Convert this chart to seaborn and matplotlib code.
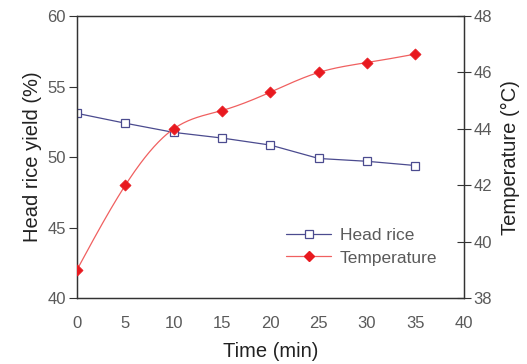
import numpy as np
import pandas as pd
import matplotlib
matplotlib.use("Agg")
import matplotlib.pyplot as plt
import seaborn as sns
from matplotlib.lines import Line2D

time_min = [0, 5, 10, 15, 20, 25, 30, 35]
head_rice = [53.1, 52.4, 51.75, 51.35, 50.85, 49.9, 49.7, 49.4]
temperature = [39.0, 42.0, 44.0, 44.65, 45.3, 46.0, 46.35, 46.65]
x_ticks = [0, 5, 10, 15, 20, 25, 30, 35, 40]
left_ticks = [40, 45, 50, 55, 60]
right_ticks = [38, 40, 42, 44, 46, 48]


def natural_spline(x, y, n=300):
    x = np.asarray(x, float)
    y = np.asarray(y, float)
    k = len(x)
    h = np.diff(x)
    A = np.zeros((k, k))
    b = np.zeros(k)
    A[0, 0] = A[-1, -1] = 1
    for i in range(1, k - 1):
        A[i, i - 1] = h[i - 1]
        A[i, i] = 2 * (h[i - 1] + h[i])
        A[i, i + 1] = h[i]
        b[i] = 3 * ((y[i + 1] - y[i]) / h[i] - (y[i] - y[i - 1]) / h[i - 1])
    c = np.linalg.solve(A, b)
    xs = np.linspace(x[0], x[-1], n)
    ys = np.empty_like(xs)
    for j, xv in enumerate(xs):
        i = min(np.searchsorted(x, xv, side="right") - 1, k - 2)
        bi = (y[i + 1] - y[i]) / h[i] - h[i] * (2 * c[i] + c[i + 1]) / 3
        di = (c[i + 1] - c[i]) / (3 * h[i])
        dx = xv - x[i]
        ys[j] = y[i] + bi * dx + c[i] * dx ** 2 + di * dx ** 3
    return xs, ys


sns.set_style("white")
plt.rcParams["font.family"] = ["Liberation Sans", "DejaVu Sans"]

fig = plt.figure(figsize=(5.27, 3.64), dpi=100)
ax = fig.add_axes([0.146, 0.181, 0.734, 0.775])
ax2 = ax.twinx()

blue = "#4b4b8f"
red = "#e8191f"
line_red = "#f06060"
tick_col = "#5a5a5a"

df_hr = pd.DataFrame({"t": time_min, "v": head_rice})
sns.lineplot(data=df_hr, x="t", y="v", ax=ax, color=blue, lw=0.9,
             marker="s", markersize=6, markerfacecolor="white",
             markeredgecolor=blue, markeredgewidth=0.9)

xs, ys = natural_spline(time_min, temperature)
df_ts = pd.DataFrame({"t": xs, "v": ys})
df_t = pd.DataFrame({"t": time_min, "v": temperature})
sns.lineplot(data=df_ts, x="t", y="v", ax=ax2, color=line_red, lw=0.9)
sns.scatterplot(data=df_t, x="t", y="v", ax=ax2, color=red, marker="D",
                s=32, edgecolor=red, linewidth=0.5, zorder=5)

ax.set_xlim(0, 40)
ax.set_ylim(40, 60)
ax2.set_ylim(38, 48)
ax.set_xticks(x_ticks)
ax.set_yticks(left_ticks)
ax2.set_yticks(right_ticks)

for a in (ax, ax2):
    for s in a.spines.values():
        s.set_color("#333333")
        s.set_linewidth(0.9)

ax.tick_params(axis="x", direction="out", length=6, width=0.8, colors="#333333",
               labelcolor=tick_col, labelsize=12, pad=7)
ax.tick_params(axis="y", direction="out", length=6, width=0.8, colors="#333333",
               labelcolor=tick_col, labelsize=12, pad=2, left=True)
ax2.tick_params(axis="y", direction="inout", length=10, width=0.8, colors="#333333",
                labelcolor=tick_col, labelsize=12, pad=2, right=True)

ax.set_xlabel("Time (min)", fontsize=14.5, color="#222222", labelpad=8)
ax.set_ylabel("Head rice yield (%)", fontsize=14.5, color="#222222", labelpad=4)
ax2.set_ylabel("Temperature (\u00b0C)", fontsize=14.5, color="#222222", labelpad=6)

handles = [
    Line2D([], [], color=blue, lw=0.9, marker="s", markersize=6,
           markerfacecolor="white", markeredgecolor=blue, markeredgewidth=0.9),
    Line2D([], [], color=line_red, lw=0.9, marker="D", markersize=5,
           markerfacecolor=red, markeredgecolor=red),
]
leg = ax.legend(handles, ["Head rice", "Temperature"], loc="lower left",
                bbox_to_anchor=(0.5, 0.06), frameon=False, fontsize=12.5,
                handlelength=2.6, handletextpad=0.5, labelspacing=0.45)
for t in leg.get_texts():
    t.set_color(tick_col)

fig.savefig("out.png", dpi=100)
